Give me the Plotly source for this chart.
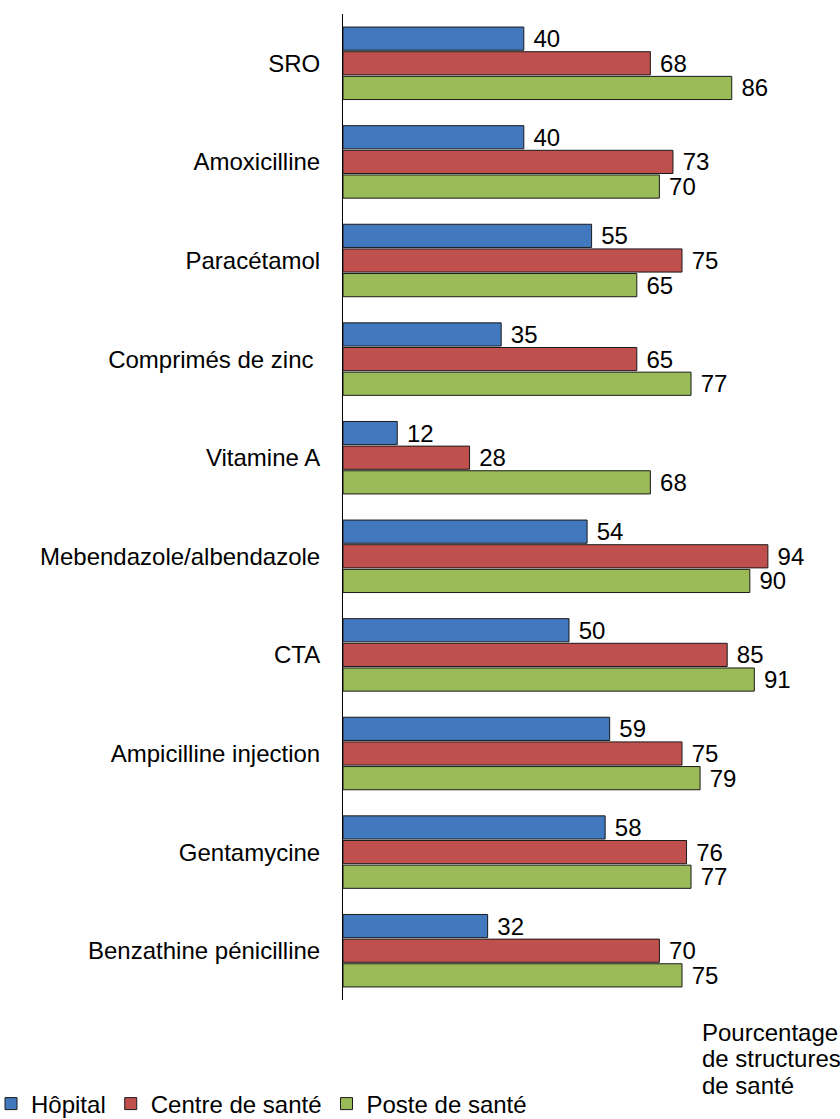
import plotly.graph_objects as go

categories = ["SRO", "Amoxicilline", "Paracétamol", "Comprimés de zinc ", "Vitamine A",
              "Mebendazole/albendazole", "CTA", "Ampicilline injection", "Gentamycine",
              "Benzathine pénicilline"]
series_names = ["Hôpital", "Centre de santé", "Poste de santé"]
hopital = [40, 40, 55, 35, 12, 54, 50, 59, 58, 32]
centre = [68, 73, 75, 65, 28, 94, 85, 75, 76, 70]
poste = [86, 70, 65, 77, 68, 90, 91, 79, 77, 75]
colors = ["#4178BE", "#C0504D", "#9BBB59"]
axis_note = ["Pourcentage", "de structures", "de santé"]

W, H = 840, 1119
ML, MR, MT, MB = 343, 45, 14, 119
PW = W - ML - MR
PH = H - MT - MB

FONT = "Liberation Sans, Arial, sans-serif"
FS = 24

fig = go.Figure()
for name, vals, col in zip(series_names, [hopital, centre, poste], colors):
    fig.add_trace(go.Bar(
        y=categories, x=vals, name=name, orientation="h",
        marker=dict(color=col, line=dict(color="#1a1a1a", width=1)),
        text=vals, texttemplate="\u00a0%{x}", textposition="outside",
        textfont=dict(family=FONT, size=FS, color="black"),
        constraintext="none", cliponaxis=False, hoverinfo="skip",
    ))

def px_x(px):
    return (px - ML) / PW

def px_y(py):
    return (H - MB - py) / PH

for i, line in enumerate(axis_note):
    fig.add_annotation(
        text=line, xref="paper", yref="paper",
        x=px_x(700), y=px_y(1032 + i * 26.7),
        xanchor="left", yanchor="middle", showarrow=False,
        font=dict(family=FONT, size=FS, color="black"),
    )

fig.update_layout(
    width=W, height=H,
    margin=dict(l=ML, r=MR, t=MT, b=MB, autoexpand=False),
    paper_bgcolor="white", plot_bgcolor="white",
    barmode="group", bargap=0.25, bargroupgap=0.06,
    font=dict(family=FONT, size=FS, color="black"),
    showlegend=True,
    legend=dict(
        orientation="h", x=px_x(-9), y=px_y(1104), xanchor="left", yanchor="middle",
        font=dict(family=FONT, size=FS, color="black"),
        bgcolor="rgba(0,0,0,0)", traceorder="normal",
    ),
    xaxis=dict(range=[0, 100], showgrid=False, zeroline=False, showline=False,
               showticklabels=False, ticks=""),
    yaxis=dict(autorange="reversed", showgrid=False, zeroline=False, showline=True,
               linecolor="black", linewidth=1, ticks="", ticklabelstandoff=17,
               tickfont=dict(family=FONT, size=FS, color="black")),
)

fig.write_html(
    "out.html",
    config={"displayModeBar": False},
    post_script="document.body.style.margin='0';document.body.style.overflow='hidden';"
                "document.documentElement.style.overflow='hidden';",
)
